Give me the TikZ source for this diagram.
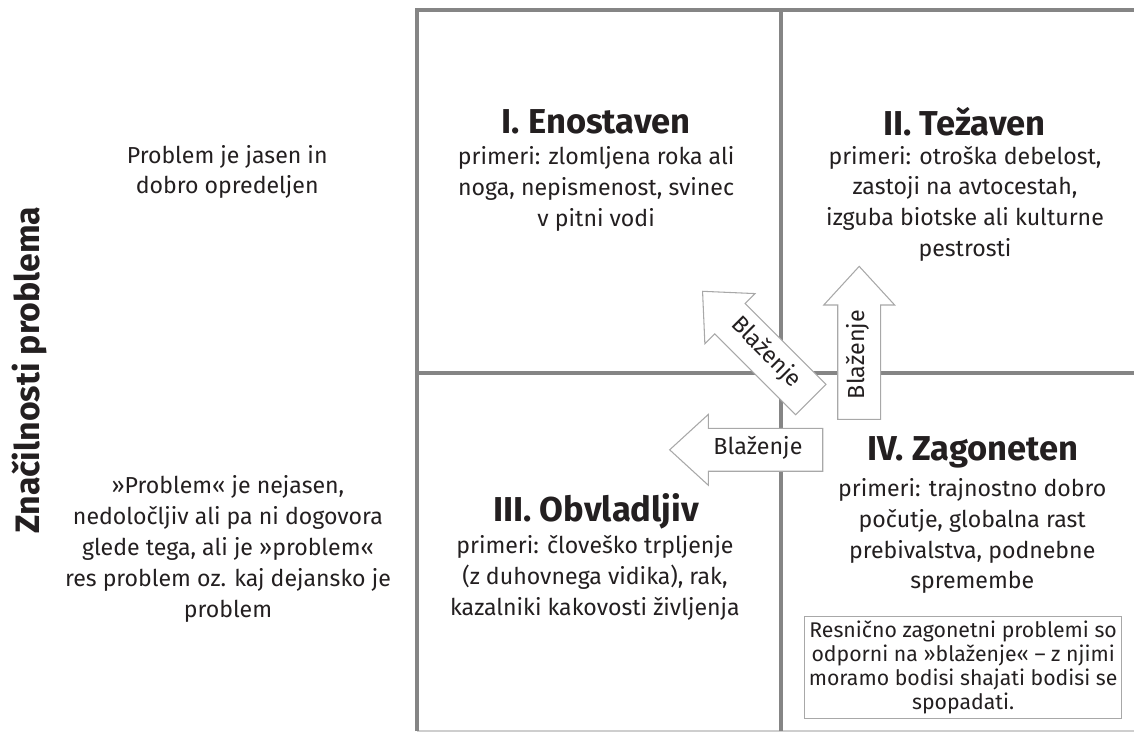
\documentclass[tikz,border=0pt]{standalone}
\usepackage{fontspec}
\setmainfont{Fira Sans}
\usetikzlibrary{shapes.arrows, positioning}

\definecolor{gridgray}{HTML}{858585}
\definecolor{arrowgray}{HTML}{A8A8A8}
\definecolor{inkblack}{HTML}{231F20}

\begin{document}
\begin{tikzpicture}[
		every node/.style={align=center, text=inkblack},
		quadtitle/.style={font=\fontsize{26}{30}\selectfont\bfseries},
		quadtext/.style={font=\fontsize{17.4}{23.25}\selectfont},
		notebox/.style={font=\fontsize{16}{18}\selectfont, draw=arrowgray, line width=0.9pt, minimum width=8.2cm, minimum height=2.62cm},
		gridline/.style={draw=gridgray, line width=3pt},
		blazenje/.style={single arrow, draw=arrowgray, fill=white, line width=0.8pt,
			single arrow head extend=10.5pt, single arrow tip angle=85,
			minimum height=4.05cm, text height=11pt, text depth=3.5pt,
			inner ysep=8.5pt, inner xsep=4pt, font=\fontsize{17.5}{20}\selectfont, anchor=tail}
		]
		
		\useasboundingbox (0,0) rectangle (30,19.39);
		
		% Grid
		\coordinate (nw) at (11.03,19.13);
		\coordinate (nm) at (20.66,19.13);
		\coordinate (ne) at (30,19.13);
		\coordinate (wm) at (11.03,9.53);
		\coordinate (em) at (30,9.53);
		\coordinate (sw) at (11.03,0.05);
		\coordinate (sm) at (20.66,0.05);
		\coordinate (se) at (30,0.05);
		\draw[draw=gridgray!40, line width=1.5pt] (sw) -- (se);
		\draw[gridline] (sw) -- (nw) -- (ne);
		\draw[gridline] (sm) -- (nm);
		\draw[gridline] (wm) -- (em);
		
		% Axis label and row texts
		\node[rotate=90, font=\fontsize{25.5}{30}\selectfont\bfseries] (axis) at (0.79,9.60) {Značilnosti problema};
		\node[quadtext] (clear) at (6.01,14.84) {Problem je jasen in\\dobro opredeljen};
		\node[quadtext] (unclear) at (6.03,4.87) {»Problem« je nejasen,\\nedoločljiv ali pa ni dogovora\\glede tega, ali je »problem«\\res problem oz. kaj dejansko je\\problem};
		
		% Quadrants
		\node[quadtitle] (simpleT) at (15.77,16.17) {I. Enostaven};
		\node[quadtext] (simple) at (15.77,14.39) {primeri: zlomljena roka ali\\noga, nepismenost, svinec\\v pitni vodi};
		\node[quadtitle] (hardT) at (25.51,16.17) {II. Težaven};
		\node[quadtext] (hard) at (25.53,14.00) {primeri: otroška debelost,\\zastoji na avtocestah,\\izguba biotske ali kulturne\\pestrosti};
		\node[quadtitle] (manageT) at (15.77,5.87) {III. Obvladljiv};
		\node[quadtext] (manage) at (15.74,4.10) {primeri: človeško trpljenje\\(z duhovnega vidika), rak,\\kazalniki kakovosti življenja};
		\node[quadtitle] (wickedT) at (25.74,7.43) {IV. Zagoneten};
		\node[quadtext] (wicked) at (25.72,5.21) {primeri: trajnostno dobro\\počutje, globalna rast\\prebivalstva, podnebne\\spremembe};
		\node[notebox] (wickedNote) at (25.48,1.73) {Resnično zagonetni problemi so\\odporni na »blaženje« – z njimi\\moramo bodisi shajati bodisi se\\spopadati.};
		
		% Blazenje arrows
		\node[blazenje, shape border rotate=180] (toManage) at (21.78,7.49) {Blaženje};
		\node[blazenje, rotate=90] (toHard) at (22.73,8.28) {Blaženje};
		\node[blazenje, rotate=-45, shape border rotate=180] (toSimple) at (21.46,8.81) {Blaženje};
		
	\end{tikzpicture}
\end{document}
